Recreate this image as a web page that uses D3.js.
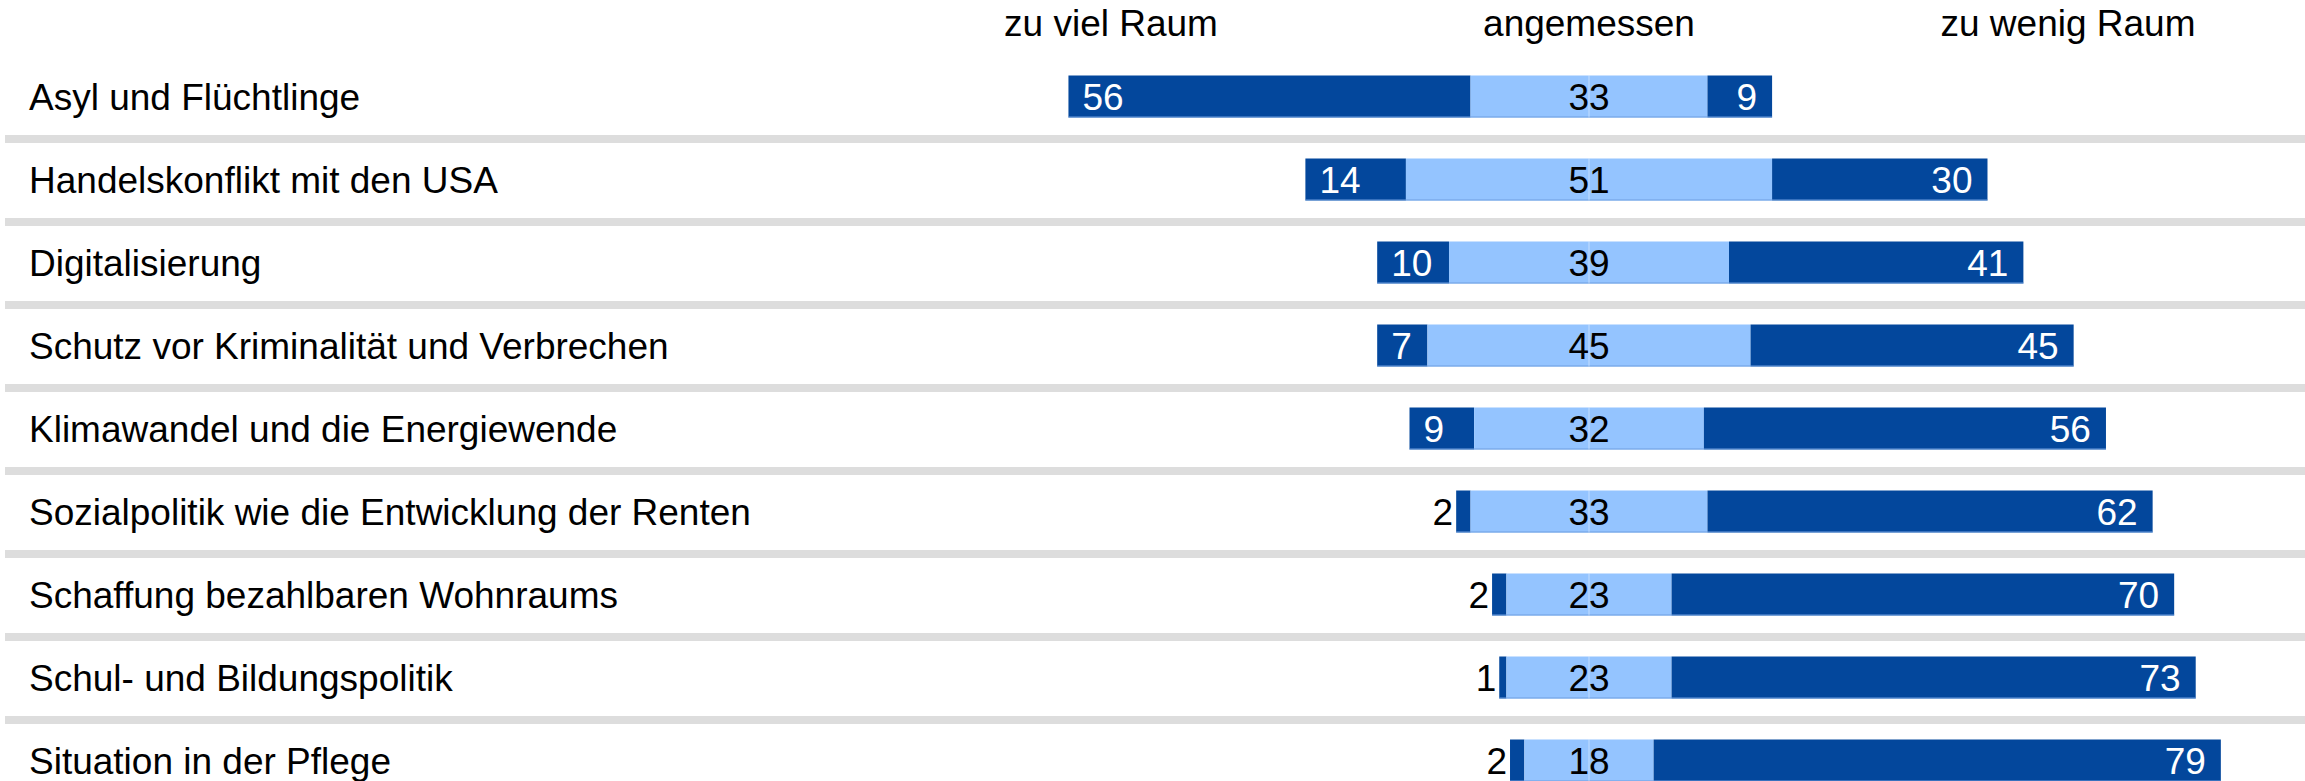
<!DOCTYPE html>
<html>
<head>
<meta charset="utf-8">
<script src="https://cdn.jsdelivr.net/npm/d3@7"></script>
<style>
  body { margin: 0; background: #fff; }
  text { font-family: "Liberation Sans", Arial, sans-serif; }
</style>
</head>
<body>
<div id="chart-container"></div>
<script>
// 1. Data
const categories = [
    "Asyl und Flüchtlinge",
    "Handelskonflikt mit den USA",
    "Digitalisierung",
    "Schutz vor Kriminalität und Verbrechen",
    "Klimawandel und die Energiewende",
    "Sozialpolitik wie die Entwicklung der Renten",
    "Schaffung bezahlbaren Wohnraums",
    "Schul- und Bildungspolitik",
    "Situation in der Pflege"
];
const zuViel = [56, 14, 10, 7, 9, 2, 2, 1, 2];
const angemessen = [33, 51, 39, 45, 32, 33, 23, 23, 18];
const zuWenig = [9, 30, 41, 45, 56, 62, 70, 73, 79];
const headers = ["zu viel Raum", "angemessen", "zu wenig Raum"];

// 2. Setup the canvas
const width = 2305;
const height = 781;
const center = 1589;
const unit = 7.18;
const fontSize = "37px";

const svg = d3.select("#chart-container")
    .append("svg")
    .attr("width", width)
    .attr("height", height);

const x = d3.scaleLinear()
    .domain([-100, 100])
    .range([center - 100 * unit, center + 100 * unit]);

const y = d3.scaleBand()
    .domain(categories)
    .range([55, 55 + 83 * categories.length])
    .padding(0);

const barH = 42;
const dark = "#03479c";
const light = "#94c4ff";

const rows = categories.map((c, i) => ({
    cat: c, viel: zuViel[i], mid: angemessen[i], wenig: zuWenig[i]
}));

// SEPARATORS
svg.append("g")
    .selectAll("rect")
    .data(rows)
    .join("rect")
    .attr("x", 5)
    .attr("y", d => y(d.cat) + 80)
    .attr("width", width - 5)
    .attr("height", 8)
    .attr("fill", "#dddddd");

// HEADERS
const headerX = [1111, center, 2068];
svg.append("g")
    .selectAll("text")
    .data(headers)
    .join("text")
    .attr("x", (d, i) => headerX[i])
    .attr("y", 36)
    .attr("text-anchor", "middle")
    .style("font-size", fontSize)
    .style("fill", "#000")
    .text(d => d);

// ROW LABELS
svg.append("g")
    .selectAll("text")
    .data(rows)
    .join("text")
    .attr("x", 29)
    .attr("y", d => y(d.cat) + 41.5 + 13)
    .style("font-size", fontSize)
    .style("fill", "#000")
    .text(d => d.cat);

// 3. Segments
const segs = [];
rows.forEach(d => {
    const half = d.mid / 2;
    segs.push({ cat: d.cat, key: "viel", v: d.viel, x0: -half - d.viel, x1: -half, fill: dark });
    segs.push({ cat: d.cat, key: "mid", v: d.mid, x0: -half, x1: half, fill: light });
    segs.push({ cat: d.cat, key: "wenig", v: d.wenig, x0: half, x1: half + d.wenig, fill: dark });
});

const barTop = d => y(d.cat) + (83 - barH) / 2;

svg.append("g")
    .selectAll("rect")
    .data(segs)
    .join("rect")
    .attr("x", d => x(d.x0))
    .attr("y", barTop)
    .attr("width", d => x(d.x1) - x(d.x0))
    .attr("height", barH)
    .attr("fill", d => d.fill);

// thin bottom edge on bars
svg.append("g")
    .selectAll("line")
    .data(rows)
    .join("line")
    .attr("x1", d => x(-d.mid / 2 - d.viel))
    .attr("x2", d => x(d.mid / 2 + d.wenig))
    .attr("y1", d => barTop(d) + barH - 0.5)
    .attr("y2", d => barTop(d) + barH - 0.5)
    .attr("stroke", "#6f9fe0")
    .attr("stroke-width", 1);

// VALUE LABELS
svg.append("g")
    .selectAll("text")
    .data(segs)
    .join("text")
    .attr("x", d => {
        if (d.key === "mid") return x(0);
        if (d.key === "wenig") return x(d.x1) - 15;
        return (x(d.x1) - x(d.x0)) < 30 ? x(d.x0) - 3 : x(d.x0) + 14;
    })
    .attr("y", d => barTop(d) + barH / 2 + 13)
    .attr("text-anchor", d => {
        if (d.key === "mid") return "middle";
        if (d.key === "wenig") return "end";
        return (x(d.x1) - x(d.x0)) < 30 ? "end" : "start";
    })
    .style("font-size", fontSize)
    .style("fill", d => {
        if (d.key === "mid") return "#000";
        if (d.key === "viel" && (x(d.x1) - x(d.x0)) < 30) return "#000";
        return "#fff";
    })
    .text(d => d.v);

// CENTER LINE through the middle segments
svg.append("g")
    .selectAll("line")
    .data(rows)
    .join("line")
    .attr("x1", x(0))
    .attr("x2", x(0))
    .attr("y1", barTop)
    .attr("y2", d => barTop(d) + barH)
    .attr("stroke", "#ffffff")
    .attr("stroke-opacity", 0.45)
    .attr("stroke-width", 1);
</script>
</body>
</html>
